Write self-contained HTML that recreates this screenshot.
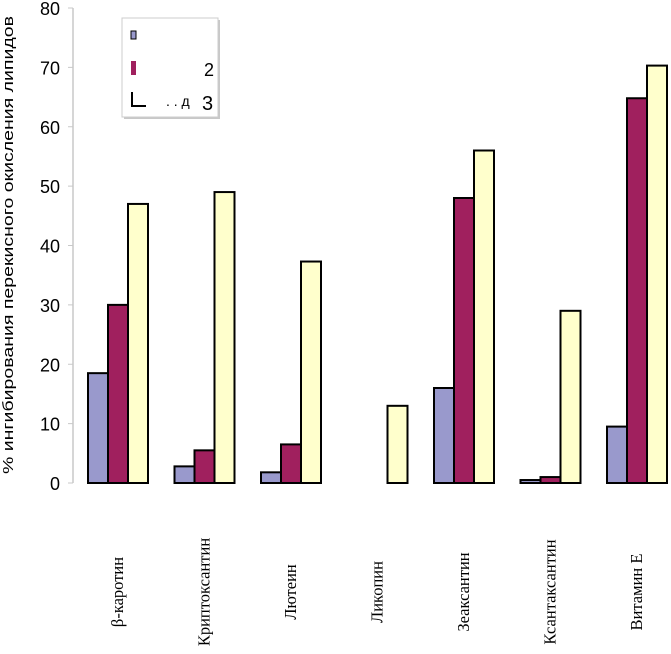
<!DOCTYPE html>
<html><head><meta charset="utf-8"><style>
body{margin:0;background:#fff;}
svg{display:block;}
</style></head><body>
<svg width="671" height="654" id="c">
<text transform="translate(13,245) rotate(-90)" text-anchor="middle" font-family="Liberation Sans, sans-serif" font-size="15" textLength="458" lengthAdjust="spacingAndGlyphs" fill="#000">% ингибирования перекисного окисления липидов</text>
<g>
<rect x="124" y="20" width="96" height="99" fill="#c8c8c8"/>
<rect x="122" y="18" width="96" height="99" fill="#fff" stroke="#ccc"/>
<rect x="131" y="31" width="5" height="8" fill="#9999cc" stroke="#000"/>
<rect x="131" y="61" width="5" height="14" fill="#a0205e"/>
<text x="204" y="76" font-family="Liberation Sans, sans-serif" font-size="18">2</text>
<path d="M132 92 V106 H146" fill="none" stroke="#000" stroke-width="2"/>
<text x="166" y="106" font-family="Liberation Sans, sans-serif" font-size="14">. . д</text>
<text x="202" y="110" font-family="Liberation Sans, sans-serif" font-size="20">3</text>
</g>
</svg>
<script>
const categories=["β-каротин","Криптоксантин","Лютеин","Ликопин","Зеаксантин","Ксантаксантин","Витамин E"];
const series1=[18.5,2.8,1.8,0,16,0.5,9.5];
const series2=[30,5.5,6.5,0,48,1,64.8];
const series3=[47,49,37.3,13,56,29,70.3];
const yTicks=[0,10,20,30,40,50,60,70,80];
const svg=document.getElementById('c');
const NS='http://www.w3.org/2000/svg';
const y0=483,y1=8,vmax=80;
const y=v=>y0-(v/vmax)*(y0-y1);
const gx=i=>88+i*86.5;
const bw=20;
function mk(t,a){const e=document.createElementNS(NS,t);for(const k in a)e.setAttribute(k,a[k]);svg.appendChild(e);return e;}
const ax=mk('line',{x1:73,y1:y0,x2:73,y2:y1,stroke:'#c8c8c8','stroke-width':1.5});


yTicks.forEach(t=>{
  const tk=mk('line',{x1:68,x2:73,y1:y(t),y2:y(t),stroke:'#c8c8c8'});
  
  
  const tl=mk('text',{x:60,y:y(t)+7,'text-anchor':'end','font-family':'Liberation Sans, sans-serif','font-size':18});
  tl.textContent=t;
  
  
});
const sets=[[series1,'#9999cc'],[series2,'#a0205e'],[series3,'#ffffcc']];
categories.forEach((c,i)=>{
  sets.forEach(([s,col],k)=>{
    const v=s[i];
    if(v<=0)return;
    const r=mk('rect',{x:gx(i)+k*bw,y:y(v),width:bw,height:y0-y(v),fill:col,stroke:'#000','stroke-width':2});
    
    
  });
  const cx=gx(i)+30;
  const tl=mk('text',{transform:`translate(${cx+5},592) rotate(-90)`,'text-anchor':'middle','font-family':'Liberation Serif, serif','font-size':16.5});
  tl.textContent=c;
  
  
});
</script>
</body></html>
